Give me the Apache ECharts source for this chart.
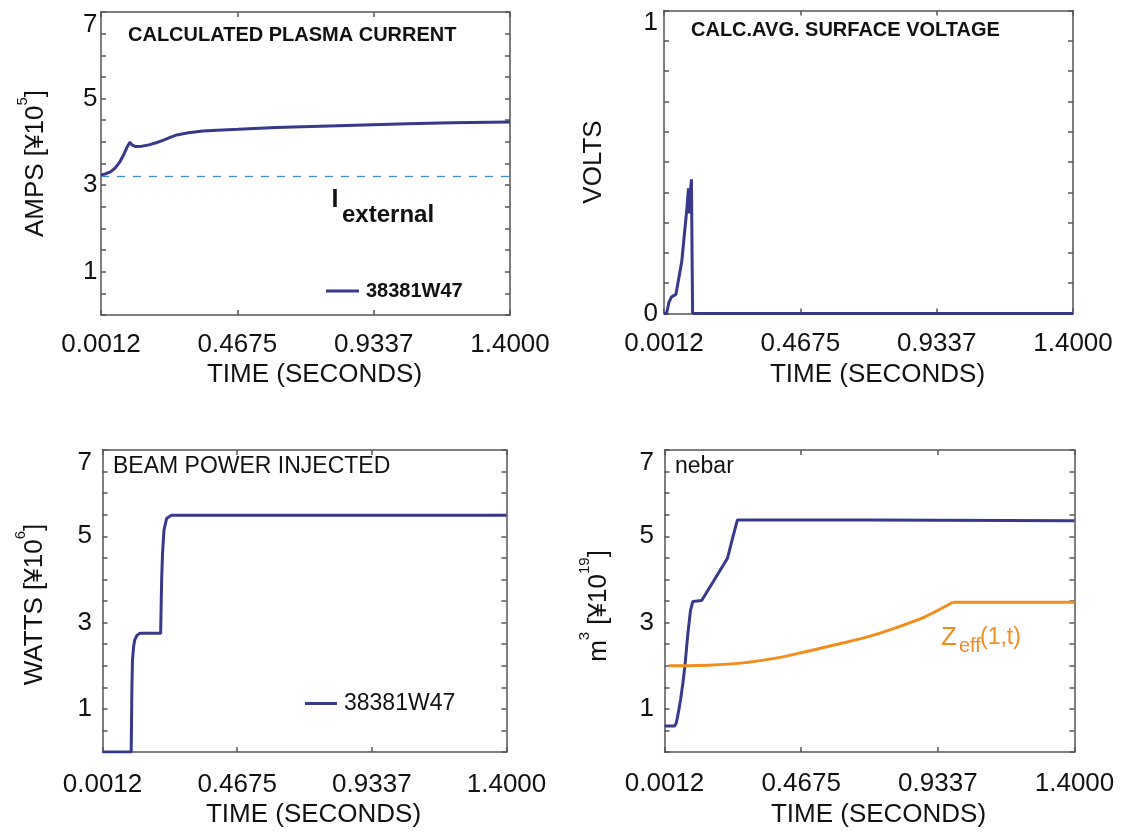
<!DOCTYPE html>
<html>
<head>
<meta charset="utf-8">
<script src="https://cdn.jsdelivr.net/npm/echarts@6/dist/echarts.min.js"></script>
<style>
html,body{margin:0;padding:0;background:#fff;}
#c{width:1126px;height:835px;}
</style>
</head>
<body>
<div id="c"></div>
<script>
// ---------- data ----------
const xTickValues = [0.0012, 0.4675, 0.9337, 1.4];
const xTickLabels = ['0.0012', '0.4675', '0.9337', '1.4000'];
const yTickLabels7 = [1, 3, 5, 7];
const yTickLabels1 = [0, 1];

// Calculated plasma current [x1e5 A]
const tCurrent = [0.0012, 0.02, 0.035, 0.05, 0.065, 0.08, 0.092, 0.1, 0.107, 0.12, 0.14, 0.165, 0.19, 0.215, 0.24, 0.26, 0.3, 0.35, 0.4, 0.47, 0.6, 0.75, 0.9, 1.05, 1.2, 1.4];
const vCurrent = [3.23, 3.27, 3.31, 3.40, 3.53, 3.72, 3.90, 3.99, 3.93, 3.89, 3.90, 3.93, 3.98, 4.04, 4.11, 4.16, 4.21, 4.25, 4.27, 4.29, 4.33, 4.36, 4.39, 4.42, 4.44, 4.46];
const tExternal = [0.0012, 1.4];
const vExternal = [3.2, 3.2];

// Surface voltage [V]
const tVoltage = [0.0012, 0.010, 0.018, 0.027, 0.042, 0.062, 0.079, 0.085, 0.088, 0.091, 0.095, 0.0985, 0.099, 1.4];
const vVoltage = [0, 0, 0.037, 0.055, 0.063, 0.172, 0.342, 0.413, 0.33, 0.40, 0.443, 0.443, 0, 0];

// Beam power injected [x1e6 W]
const tBeam = [0.0012, 0.1005, 0.1016, 0.103, 0.105, 0.109, 0.113, 0.12, 0.13, 0.2025, 0.204, 0.206, 0.209, 0.214, 0.223, 0.24, 1.4];
const vBeam = [0, 0, 0.6, 1.5, 2.13, 2.45, 2.6, 2.7, 2.75, 2.75, 3.3, 4.0, 4.6, 5.14, 5.41, 5.49, 5.49];

// nebar [x1e19 m^-3]
const tNebar = [0.0012, 0.035, 0.041, 0.047, 0.056, 0.064, 0.071, 0.081, 0.090, 0.098, 0.103, 0.128, 0.172, 0.216, 0.235, 0.250, 0.7, 1.4];
const vNebar = [0.60, 0.60, 0.66, 0.86, 1.21, 1.60, 2.00, 2.75, 3.29, 3.49, 3.51, 3.51, 4.00, 4.49, 5.00, 5.38, 5.38, 5.36];

// Zeff(1,t): rising part, then flat part
const tZeffRise = [0.016, 0.08, 0.148, 0.262, 0.376, 0.467, 0.58, 0.7, 0.8, 0.889, 0.985];
const vZeffRise = [2.0, 2.0, 2.01, 2.06, 2.17, 2.30, 2.48, 2.68, 2.9, 3.13, 3.47];
const tZeffFlat = [0.985, 1.4];
const vZeffFlat = [3.47, 3.47];

// ---------- styling ----------
const FONT = '"Liberation Sans", Arial, Helvetica, sans-serif';
const NAVY = '#38388c';
const ORANGE = '#f28c1c';
const DASH = '#3f8fcf';
const AXC = '#555';
const TXT = '#111';

function pairs(t, v) { return t.map((x, i) => [x, v[i]]); }

const grids = [
  {left: 101, top: 12, width: 409, height: 303},
  {left: 664, top: 10.5, width: 409, height: 303},
  {left: 102.5, top: 450, width: 404, height: 302},
  {left: 664.5, top: 450, width: 410, height: 302}
];

const lineStyleAx = {color: AXC, width: 1.5};

function xAxes(gi, labelMargin, nameGap) {
  return [
    {
      gridIndex: gi, type: 'value', position: 'bottom', min: 0.0012, max: 1.4,
      axisLine: {show: true, onZero: false, lineStyle: lineStyleAx},
      axisTick: {show: true, inside: true, length: 5, customValues: xTickValues, lineStyle: lineStyleAx},
      axisLabel: {show: true, customValues: xTickValues, margin: labelMargin,
        formatter: v => xTickLabels[xTickValues.indexOf(v)] ?? '',
        fontSize: 26, fontFamily: FONT, color: TXT},
      splitLine: {show: false},
      name: 'TIME (SECONDS)', nameLocation: 'middle', nameGap: nameGap,
      nameTextStyle: {fontSize: 26, fontFamily: FONT, color: TXT, padding: [0, 0, 0, 18]}
    },
    {
      gridIndex: gi, type: 'value', position: 'top', min: 0.0012, max: 1.4,
      axisLine: {show: true, onZero: false, lineStyle: lineStyleAx},
      axisTick: {show: true, inside: true, length: 5, customValues: xTickValues, lineStyle: lineStyleAx},
      axisLabel: {show: false}, splitLine: {show: false}
    }
  ];
}

function yAxes(gi, max, interval, labels, topPad, labelMargin, name, nameGap, rich, namePad) {
  return [
    {
      gridIndex: gi, type: 'value', position: 'left', min: 0, max: max, interval: interval,
      axisLine: {show: true, onZero: false, lineStyle: lineStyleAx},
      axisTick: {show: true, inside: true, length: 5, lineStyle: lineStyleAx},
      axisLabel: {show: true, customValues: labels, margin: labelMargin,
        formatter: v => (v === max ? '{t|' + v + '}' : '' + v),
        fontSize: 26, fontFamily: FONT, color: TXT,
        rich: {t: {fontSize: 26, fontFamily: FONT, color: TXT, padding: [topPad, 0, 0, 0]}}},
      splitLine: {show: false},
      name: name, nameLocation: 'middle', nameRotate: 90, nameGap: nameGap,
      nameTextStyle: {fontSize: 26, fontFamily: FONT, color: TXT, rich: rich, padding: [0, namePad, 0, 0]}
    },
    {
      gridIndex: gi, type: 'value', position: 'right', min: 0, max: max, interval: interval,
      axisLine: {show: true, onZero: false, lineStyle: lineStyleAx},
      axisTick: {show: true, inside: true, length: 5, lineStyle: lineStyleAx},
      axisLabel: {show: false}, splitLine: {show: false}
    }
  ];
}

const nameRich = {
  n: {fontSize: 26, fontFamily: FONT, color: TXT, lineHeight: 34, verticalAlign: 'bottom'},
  s: {fontSize: 15, fontFamily: FONT, color: TXT, lineHeight: 15, verticalAlign: 'top'}
};

const seriesBase = {type: 'line', symbol: 'none', showSymbol: false, z: 3};

const option = {
  backgroundColor: '#fff',
  animation: false,
  grid: grids,
  xAxis: [].concat(xAxes(0, 16.5, 47), xAxes(1, 17, 48.5), xAxes(2, 19.5, 50), xAxes(3, 19, 50)),
  yAxis: [].concat(
    yAxes(0, 7, 0.5, yTickLabels7, 26, 3.5, '{n|AMPS [¥10}{s|5}{n|]}', 52, nameRich, 0),
    yAxes(1, 1, 0.1, yTickLabels1, 24, 6, 'VOLTS', 57, null, 0),
    yAxes(2, 7, 0.5, yTickLabels7, 25, 10.5, '{n|WATTS [¥10}{s|6}{n|]}', 55, nameRich, 7),
    yAxes(3, 7, 0.5, yTickLabels7, 25, 10.5, '{n|m}{s|3}{n| [¥10}{s|19}{n|]}', 53, nameRich, 10)
  ),
  title: [
    {text: 'CALCULATED PLASMA CURRENT', left: 128, top: 25.5, padding: 0,
     textStyle: {fontSize: 20, fontWeight: 'bold', fontFamily: FONT, color: TXT}},
    {text: 'CALC.AVG. SURFACE VOLTAGE', left: 691, top: 20.5, padding: 0,
     textStyle: {fontSize: 20, fontWeight: 'bold', fontFamily: FONT, color: TXT}},
    {text: 'BEAM POWER INJECTED', left: 113, top: 455.5, padding: 0,
     textStyle: {fontSize: 23, fontWeight: 'normal', fontFamily: FONT, color: TXT}},
    {text: 'nebar', left: 675, top: 455.5, padding: 0,
     textStyle: {fontSize: 23, fontWeight: 'normal', fontFamily: FONT, color: TXT}}
  ],
  legend: [
    {data: ['38381W47'], left: 326, top: 281, padding: 0, icon: 'rect', itemWidth: 33, itemHeight: 3,
     selectedMode: false,
     textStyle: {fontSize: 20, fontWeight: 'bold', fontFamily: FONT, color: TXT, padding: [4, 0, 0, 2]}},
    {data: ['38381W47'], left: 305, top: 692, padding: 0, icon: 'rect', itemWidth: 32, itemHeight: 3,
     selectedMode: false,
     textStyle: {fontSize: 23, fontWeight: 'normal', fontFamily: FONT, color: TXT, padding: [2, 0, 0, 2]}}
  ],
  graphic: [
    {type: 'text', x: 331.5, y: 200.3, silent: true,
     style: {text: 'I', fontSize: 25, fontWeight: 'bold', fontFamily: FONT, fill: TXT, verticalAlign: 'middle', textVerticalAlign: 'middle'}},
    {type: 'text', x: 342, y: 215.6, silent: true,
     style: {text: 'external', fontSize: 24, fontWeight: 'bold', fontFamily: FONT, fill: TXT, verticalAlign: 'middle', textVerticalAlign: 'middle'}},
    {type: 'text', x: 941, y: 637.6, silent: true,
     style: {text: 'Z', fontSize: 26, fontFamily: FONT, fill: ORANGE, verticalAlign: 'middle', textVerticalAlign: 'middle'}},
    {type: 'text', x: 959, y: 646, silent: true,
     style: {text: 'eff', fontSize: 20, fontFamily: FONT, fill: ORANGE, verticalAlign: 'middle', textVerticalAlign: 'middle'}},
    {type: 'text', x: 980, y: 637.9, silent: true,
     style: {text: '(1,t)', fontSize: 23, fontFamily: FONT, fill: ORANGE, verticalAlign: 'middle', textVerticalAlign: 'middle'}}
  ],
  series: [
    Object.assign({}, seriesBase, {name: 'I_external', xAxisIndex: 0, yAxisIndex: 0, data: pairs(tExternal, vExternal),
     color: DASH, lineStyle: {color: DASH, width: 1.3, type: [8, 8]}, z: 2}),
    Object.assign({}, seriesBase, {name: '38381W47', xAxisIndex: 0, yAxisIndex: 0, data: pairs(tCurrent, vCurrent),
     color: NAVY, itemStyle: {color: NAVY}, lineStyle: {color: NAVY, width: 3}}),
    Object.assign({}, seriesBase, {name: 'voltage', xAxisIndex: 2, yAxisIndex: 2, data: pairs(tVoltage, vVoltage),
     color: NAVY, lineStyle: {color: NAVY, width: 3}}),
    Object.assign({}, seriesBase, {name: '38381W47', xAxisIndex: 4, yAxisIndex: 4, data: pairs(tBeam, vBeam),
     color: NAVY, itemStyle: {color: NAVY}, lineStyle: {color: NAVY, width: 3}}),
    Object.assign({}, seriesBase, {name: 'nebar', xAxisIndex: 6, yAxisIndex: 6, data: pairs(tNebar, vNebar),
     color: NAVY, lineStyle: {color: NAVY, width: 3}}),
    Object.assign({}, seriesBase, {name: 'Zeff', xAxisIndex: 6, yAxisIndex: 6, data: pairs(tZeffRise, vZeffRise),
     smooth: 0.3, color: ORANGE, lineStyle: {color: ORANGE, width: 3}}),
    Object.assign({}, seriesBase, {name: 'Zeff flat', xAxisIndex: 6, yAxisIndex: 6, data: pairs(tZeffFlat, vZeffFlat),
     color: ORANGE, lineStyle: {color: ORANGE, width: 3}})
  ]
};

const chart = echarts.init(document.getElementById('c'), null, {renderer: 'canvas'});
chart.setOption(option);
</script>
</body>
</html>
